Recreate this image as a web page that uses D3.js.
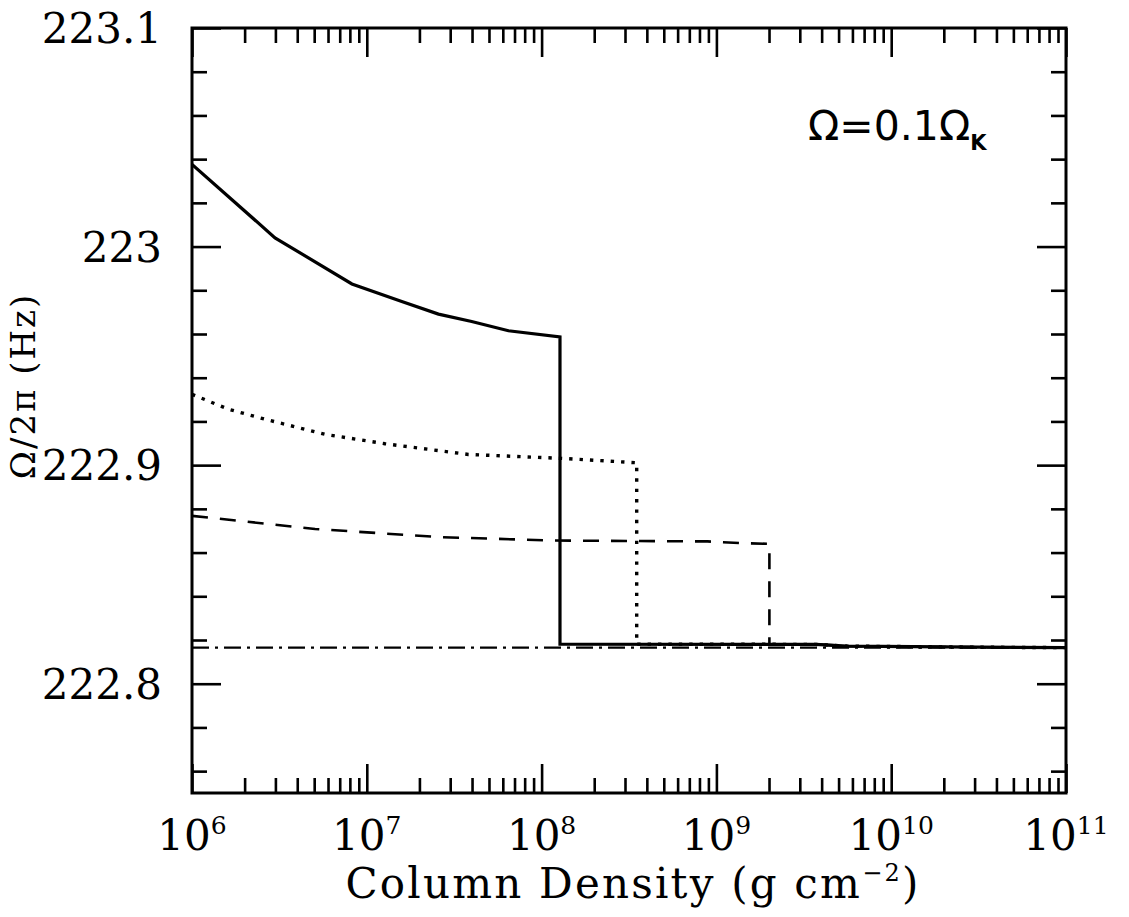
<!DOCTYPE html>
<html>
<head>
<meta charset="utf-8">
<script src="https://cdn.jsdelivr.net/npm/d3@7"></script>
<style>
  html, body { margin: 0; padding: 0; background: #fff; }
  svg { display: block; }
</style>
</head>
<body>
<svg id="chart" width="1129" height="917"></svg>
<script>
// ---------------- data ----------------
const xTickExponents = [6, 7, 8, 9, 10, 11];
const yTickLabels = [222.8, 222.9, 223.0, 223.1];
const yMinorTicks = [222.76, 222.78, 222.82, 222.84, 222.86, 222.88, 222.92, 222.94, 222.96, 222.98, 223.02, 223.04, 223.06, 223.08];

const solidX = [1e6, 2.985e6, 8.22e6, 1.585e7, 2.57e7, 3.98e7, 6.46e7, 1.274e8, 1.274e8, 3.7e9, 5.6e9, 3.2e10, 1e11];
const solidY = [223.0376, 223.0040, 222.9829, 222.9749, 222.9691, 222.9657, 222.9615, 222.9587, 222.8181, 222.8180, 222.8172, 222.8167, 222.8165];

const dottedX = [1e6, 1.614e6, 2.62e6, 5.77e6, 1.27e7, 3.81e7, 1.30e8, 3.50e8, 3.50e8, 3.7e9, 5.6e9, 3.2e10, 1e11];
const dottedY = [222.9324, 222.9256, 222.9210, 222.9141, 222.9098, 222.9049, 222.9031, 222.9011, 222.8181, 222.8180, 222.8172, 222.8167, 222.8165];

const dashedX = [1e6, 5.06e6, 2.57e7, 1.143e8, 8.9e8, 1.41e9, 2.01e9, 2.01e9, 3.7e9, 5.6e9, 3.2e10, 1e11];
const dashedY = [222.8768, 222.8708, 222.8671, 222.8655, 222.8651, 222.8643, 222.8640, 222.8180, 222.8180, 222.8172, 222.8167, 222.8165];

const dashDotX = [1e6, 1e11];
const dashDotY = [222.8165, 222.8165];

const xTitle = "Column Density (g cm";
const xTitleSup = "\u22122";
const yTitle = "\u03A9/2\u03C0 (Hz)";
const annotation = "\u03A9=0.1\u03A9";
const annotationSub = "K";

// ---------------- layout ----------------
const L = 192, R = 1066, T = 28, B = 793;
const svg = d3.select("#chart");

const x = d3.scaleLog().domain([1e6, 1e11]).range([L, R]);
const y = d3.scaleLinear().domain([222.75, 223.1]).range([B, T]);

const xMajor = xTickExponents.map(e => Math.pow(10, e));
const xMinor = [];
xTickExponents.slice(0, -1).forEach(e => {
  for (let k = 2; k <= 9; k++) xMinor.push(k * Math.pow(10, e));
});

const MAJ = 29, MIN = 15;

function styleAxis(g) {
  g.select(".domain").remove();
  g.selectAll(".tick line").attr("stroke", "#000").attr("stroke-width", 2.6);
  g.selectAll(".tick text").remove();
}

// bottom / top axes
svg.append("g").attr("transform", `translate(0,${B})`)
  .call(d3.axisBottom(x).tickValues(xMajor).tickSize(-MAJ).tickFormat("")).call(styleAxis);
svg.append("g").attr("transform", `translate(0,${B})`)
  .call(d3.axisBottom(x).tickValues(xMinor).tickSize(-MIN).tickFormat("")).call(styleAxis);
svg.append("g").attr("transform", `translate(0,${T})`)
  .call(d3.axisTop(x).tickValues(xMajor).tickSize(-MAJ).tickFormat("")).call(styleAxis);
svg.append("g").attr("transform", `translate(0,${T})`)
  .call(d3.axisTop(x).tickValues(xMinor).tickSize(-MIN).tickFormat("")).call(styleAxis);

// left / right axes
svg.append("g").attr("transform", `translate(${L},0)`)
  .call(d3.axisLeft(y).tickValues(yTickLabels).tickSize(-MAJ).tickFormat("")).call(styleAxis);
svg.append("g").attr("transform", `translate(${L},0)`)
  .call(d3.axisLeft(y).tickValues(yMinorTicks).tickSize(-MIN).tickFormat("")).call(styleAxis);
svg.append("g").attr("transform", `translate(${R},0)`)
  .call(d3.axisRight(y).tickValues(yTickLabels).tickSize(-MAJ).tickFormat("")).call(styleAxis);
svg.append("g").attr("transform", `translate(${R},0)`)
  .call(d3.axisRight(y).tickValues(yMinorTicks).tickSize(-MIN).tickFormat("")).call(styleAxis);

// clip
svg.append("clipPath").attr("id", "clip").append("rect")
  .attr("x", L).attr("y", T).attr("width", R - L).attr("height", B - T);

const line = d3.line().x(d => x(d[0])).y(d => y(d[1]));
const series = [
  { xs: dashDotX, ys: dashDotY, dash: "17,6,3,6", w: 2.4 },
  { xs: dashedX, ys: dashedY, dash: "16,12", w: 2.6 },
  { xs: dottedX, ys: dottedY, dash: "3.4,7", w: 3.4 },
  { xs: solidX, ys: solidY, dash: null, w: 3.2 }
];
const plot = svg.append("g").attr("clip-path", "url(#clip)");
series.forEach(s => {
  plot.append("path")
    .datum(s.xs.map((v, i) => [v, s.ys[i]]))
    .attr("d", line)
    .attr("fill", "none")
    .attr("stroke", "#000")
    .attr("stroke-width", s.w)
    .attr("stroke-dasharray", s.dash)
    .attr("stroke-linejoin", "miter");
});

// frame
svg.append("rect").attr("x", L).attr("y", T).attr("width", R - L).attr("height", B - T)
  .attr("fill", "none").attr("stroke", "#000").attr("stroke-width", 3);

// y tick labels
const serif = "'DejaVu Serif', 'Liberation Serif', serif";
svg.append("g").selectAll("text").data(yTickLabels).join("text")
  .attr("x", L - 30).attr("y", d => y(d) + 15)
  .attr("text-anchor", "end")
  .attr("font-family", serif).attr("font-size", 42)
  .text(d => d3.format("")(+d.toFixed(1)));

// x tick labels
const xl = svg.append("g").selectAll("text").data(xTickExponents).join("text")
  .attr("x", d => x(Math.pow(10, d))).attr("y", 850)
  .attr("text-anchor", "middle")
  .attr("font-family", serif).attr("font-size", 42);
xl.append("tspan").text("10");
xl.append("tspan").attr("font-size", 25).attr("dy", -16).text(d => d);

// x title
const xt = svg.append("text").attr("x", (L + R) / 2 + 4).attr("y", 898)
  .attr("text-anchor", "middle").attr("font-family", serif).attr("font-size", 42)
  .attr("letter-spacing", 2.2);
xt.append("tspan").text(xTitle);
xt.append("tspan").attr("font-size", 24).attr("dy", -17).text(xTitleSup);
xt.append("tspan").attr("dy", 17).text(")");

// y title
svg.append("text")
  .attr("transform", "translate(35,386) rotate(-90)")
  .attr("text-anchor", "middle").attr("font-family", serif).attr("font-size", 34)
  .attr("letter-spacing", 2)
  .text(yTitle);

// annotation
const an = svg.append("text").attr("x", 808).attr("y", 140)
  .attr("font-family", "'DejaVu Sans', sans-serif").attr("font-size", 41);
an.append("tspan").text(annotation);
an.append("tspan").attr("font-size", 21).attr("dy", 10).attr("font-weight", "bold").text(annotationSub);
</script>
</body>
</html>
